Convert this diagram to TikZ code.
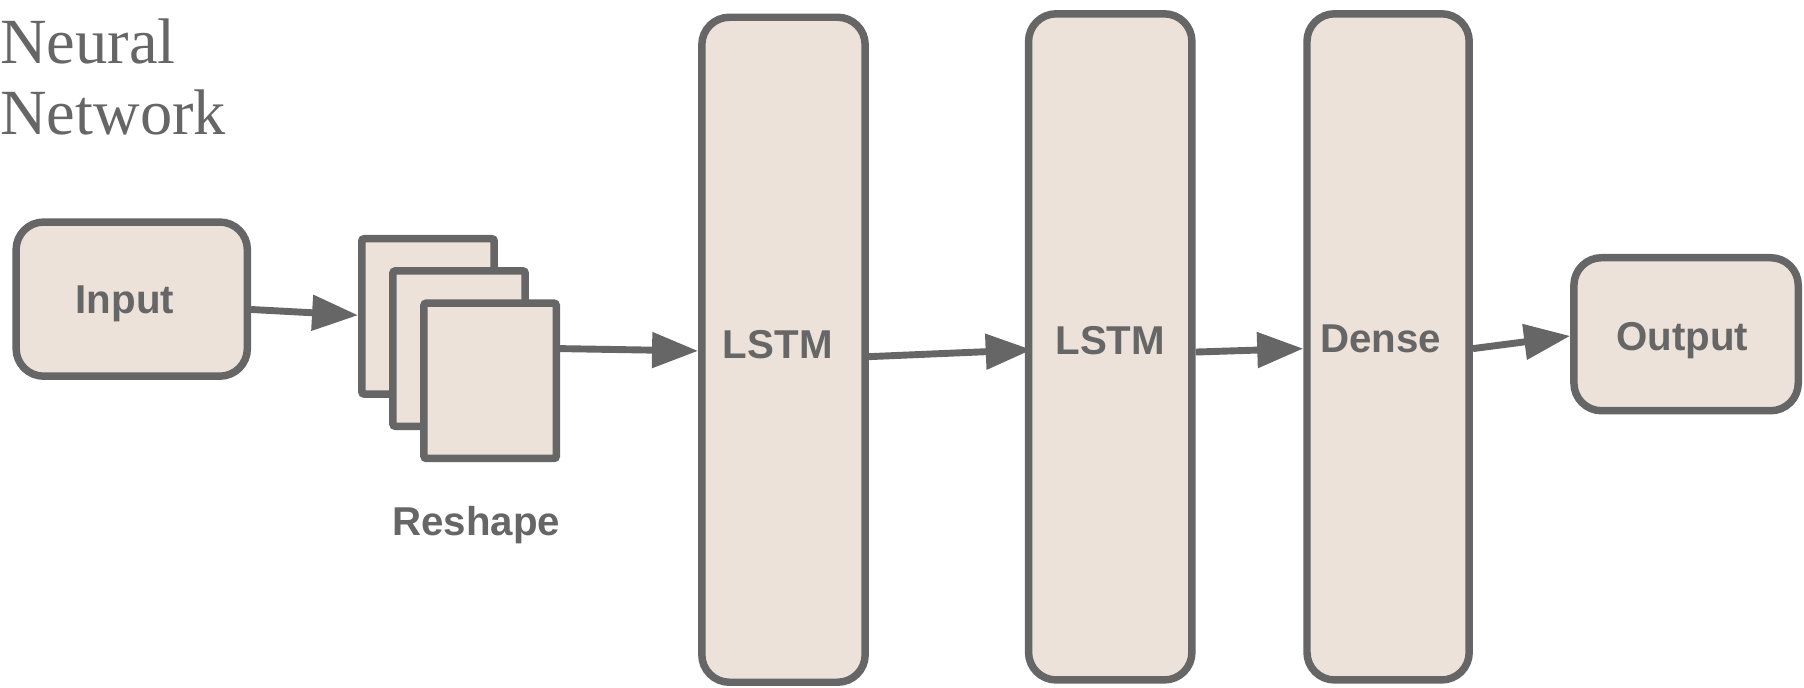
\documentclass[tikz,border=0pt]{standalone}
\usepackage{fontspec}
\setmainfont{Liberation Serif}
\newfontfamily\labfont{Liberation Sans}
\usetikzlibrary{arrows.meta}
\definecolor{edge}{HTML}{666666}
\definecolor{fillc}{HTML}{ECE2DA}
\begin{document}
\begin{tikzpicture}[x=0.5pt,y=-0.5pt,
  lab/.style={text=edge, font=\labfont\bfseries\fontsize{17.5}{21}\selectfont,
              inner sep=0pt, text height=12.5pt, text depth=0pt},
  box/.style={draw=edge, fill=fillc, line width=3.25pt, rounded corners=12pt, inner sep=0pt},
  sheet/.style={draw=edge, fill=fillc, line width=3.25pt, rounded corners=1pt, inner sep=0pt,
                minimum width=57.5pt, minimum height=67.5pt},
  titletext/.style={anchor=base west, text=edge, inner sep=0pt, font=\fontsize{28}{31}\selectfont},
  arr/.style={draw=edge, line width=3pt, -{Triangle[length=20pt,width=15pt]}},
]
\useasboundingbox (0,0) rectangle (1568,598);

\node[titletext] (t1) at (0,55) {Neural};
\node[titletext] (t2) at (0,117) {Network};

\node[box, minimum width=100.5pt, minimum height=67pt,
      label={[lab,xshift=-3pt]center:Input}] (inp) at (114.5,260) {};
\node[sheet] (rs1) at (372,275) {};
\node[sheet] (rs2) at (399,303) {};
\node[sheet] (rs3) at (426,331) {};
\node[lab] (rsl) at (414,453) {Reshape};
\node[box, minimum width=71pt, minimum height=289pt,
      label={[lab,xshift=-2.5pt,yshift=2.5pt]center:LSTM}] (l1) at (681,304) {};
\node[box, minimum width=71pt, minimum height=289.5pt,
      label={[lab,yshift=2.75pt]center:LSTM}] (l2) at (965,301.5) {};
\node[box, minimum width=70.5pt, minimum height=289.5pt,
      label={[lab,xshift=-3.25pt,yshift=3.75pt]center:Dense}] (den) at (1206.5,301.5) {};
\node[box, minimum width=97.5pt, minimum height=66.5pt,
      label={[lab,xshift=-1.75pt,yshift=-0.75pt]center:Output}] (out) at (1465.5,290.5) {};

\draw[arr] ([yshift=-4.5pt]inp.east) -- ([yshift=0.5pt]rs1.west);
\draw[arr] ([yshift=14pt]rs3.east) -- ([yshift=-0.5pt]l1.west);
\draw[arr] ([yshift=-3pt]l1.east) -- ([xshift=3pt,yshift=-1.25pt]l2.west);
\draw[arr] ([yshift=-2.25pt]l2.east) -- ([yshift=-0.75pt]den.west);
\draw[arr] ([yshift=-0.75pt]den.east) -- ([yshift=-0.75pt]out.west);
\end{tikzpicture}
\end{document}
